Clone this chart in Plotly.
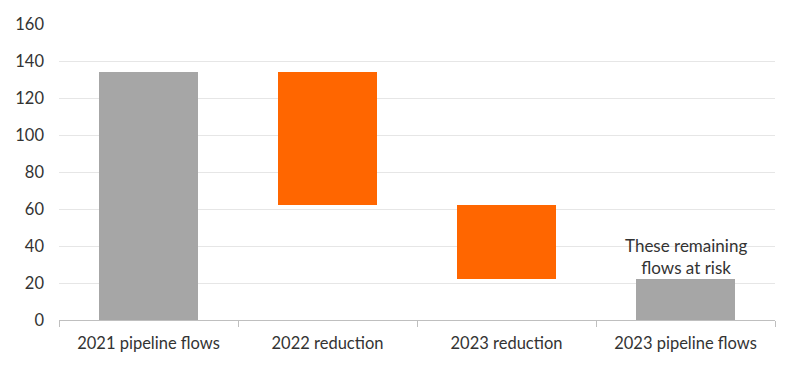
import plotly.graph_objects as go

categories = ["2021 pipeline flows", "2022 reduction", "2023 reduction", "2023 pipeline flows"]
changes = [134, -72, -40, 22]
kinds = ["total", "change", "change", "total"]
tick_vals = [0, 20, 40, 60, 80, 100, 120, 140, 160]
note_text = "These remaining<br>flows at risk"

GREY = "#a6a6a6"
ORANGE = "#ff6600"

bases, heights, colors = [], [], []
level = 0
for v, k in zip(changes, kinds):
    if k == "total":
        bases.append(0)
        heights.append(v)
        level = v
        colors.append(GREY)
    else:
        new = level + v
        bases.append(min(level, new))
        heights.append(abs(v))
        level = new
        colors.append(ORANGE)

fig = go.Figure()
fig.add_trace(go.Bar(x=categories, y=heights, base=bases, marker=dict(color=colors, line=dict(width=0)),
                     width=0.555, hoverinfo="skip"))

fig.add_annotation(x=categories[3], y=changes[3], text=note_text, showarrow=False,
                   yanchor="bottom", yshift=-1, font=dict(size=17, color="#333333", family="Lato"))

fig.update_layout(
    width=800, height=368,
    margin=dict(l=51, r=33, t=16, b=56),
    paper_bgcolor="white", plot_bgcolor="white",
    showlegend=False,
    font=dict(family="Lato", size=16.5, color="#333333"),
    bargap=0,
)
fig.update_xaxes(showline=True, linecolor="#bfbfbf", linewidth=1, ticks="outside", tickson="boundaries",
                 ticklen=6, tickcolor="#bfbfbf", showgrid=False, tickfont=dict(size=16.5),
                 ticklabelstandoff=8, automargin=False)
fig.update_yaxes(range=[0, 160], tickvals=tick_vals, showgrid=True, gridcolor="#e6e6e6", gridwidth=1,
                 zeroline=False, ticks="", ticklabelstandoff=14, tickfont=dict(size=16.5),
                 automargin=False)

fig.write_html("out.html")
